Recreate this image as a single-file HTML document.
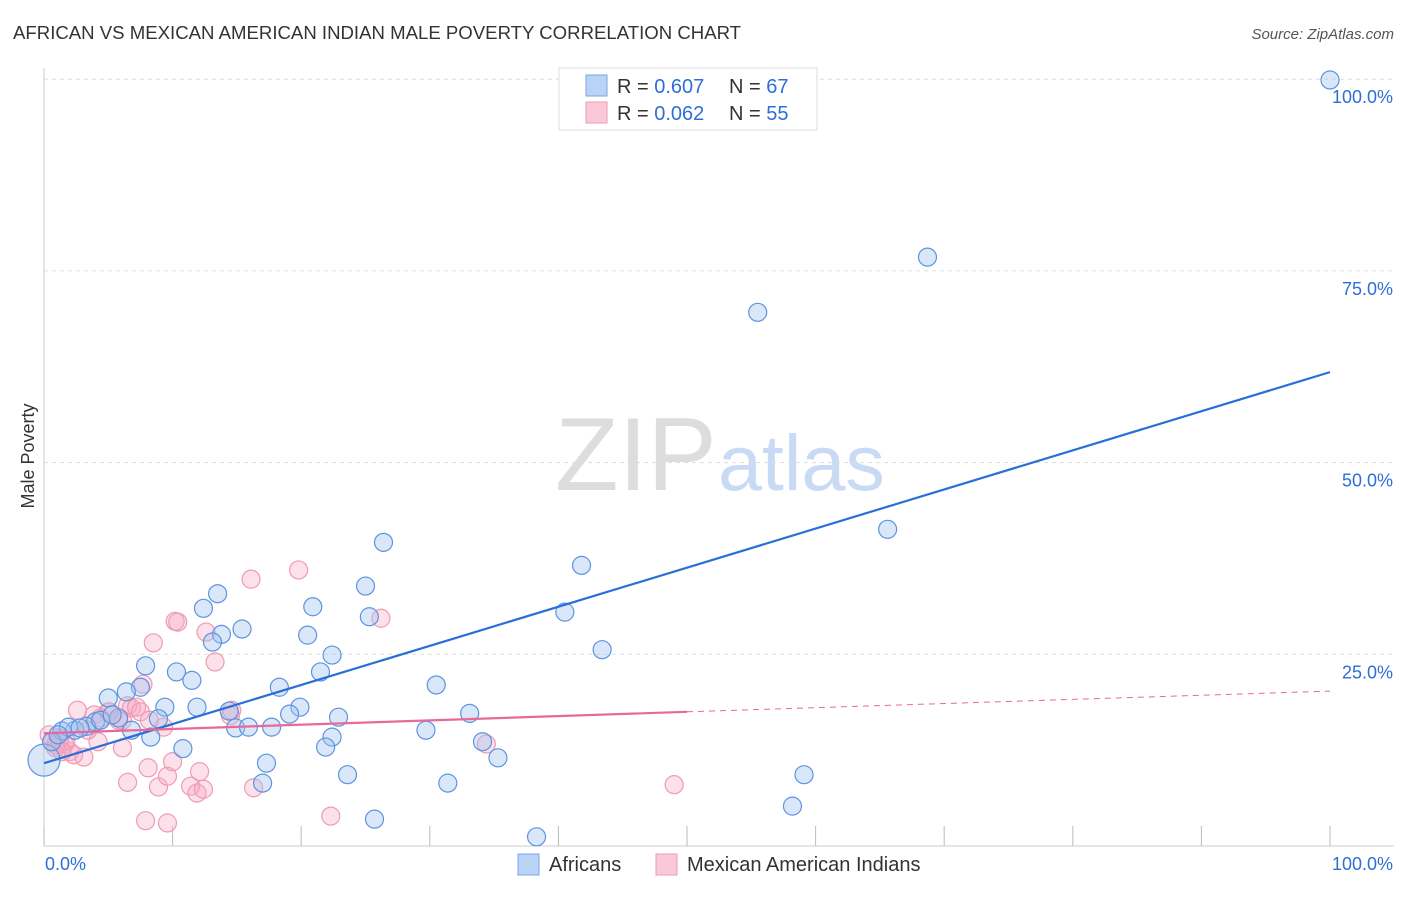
<!DOCTYPE html>
<html><head><meta charset="utf-8"><style>
body{margin:0;background:#fff;font-family:"Liberation Sans",sans-serif}
svg text{font-family:"Liberation Sans",sans-serif}
</style></head><body>
<svg id="chart" width="1406" height="892">
<text x="13" y="39" font-size="18.6" fill="#333">AFRICAN VS MEXICAN AMERICAN INDIAN MALE POVERTY CORRELATION CHART</text>
<text x="1394" y="39" font-size="15" fill="#555" font-style="italic" text-anchor="end">Source: ZipAtlas.com</text>
<text transform="translate(34,456) rotate(-90)" font-size="18" fill="#333" text-anchor="middle">Male Poverty</text>
<g><text x="555" y="490" font-size="104" fill="#ddd" font-family="Liberation Serif,serif">ZIP</text><text x="718" y="490" font-size="79" fill="#c9daf5">atlas</text></g>
<g id="grid"></g><g id="marks"></g><g id="trends"></g>
<g>
<rect x="559" y="68" width="258" height="62" fill="#fff" stroke="#ddd"/>
<rect x="586" y="75" width="21" height="21" fill="#b9d3f5" stroke="#7aa6e6"/>
<rect x="586" y="102" width="21" height="21" fill="#f9c9d7" stroke="#ef9ab4"/>
<text x="617" y="93" font-size="20" fill="#333">R = <tspan fill="#2d6fd6">0.607</tspan><tspan x="729">N = </tspan><tspan fill="#2d6fd6">67</tspan></text>
<text x="617" y="120" font-size="20" fill="#333">R = <tspan fill="#2d6fd6">0.062</tspan><tspan x="729">N = </tspan><tspan fill="#2d6fd6">55</tspan></text>
</g>
<g>
<rect x="518" y="854" width="21" height="21" fill="#b9d3f5" stroke="#7aa6e6"/>
<text x="549" y="871" font-size="20" fill="#333">Africans</text>
<rect x="656" y="854" width="21" height="21" fill="#f9c9d7" stroke="#ef9ab4"/>
<text x="687" y="871" font-size="20" fill="#333">Mexican American Indians</text>
</g>
</svg>
<script>
const blueX=[100,68.7,55.5,65.6,26.4,41.8,25.0,40.5,20.9,25.3,13.5,12.4,15.4,13.8,20.5,13.1,43.4,22.4,7.9,10.3,11.5,21.5,18.3,30.5,7.5,6.4,5.0,9.4,11.9,14.4,33.1,19.9,19.1,22.9,8.9,5.8,4.0,3.3,2.4,1.4,1.9,14.9,15.9,17.7,6.8,29.7,8.3,22.4,21.9,34.1,10.8,35.3,17.3,23.6,59.1,17.0,31.4,58.2,25.7,38.3,0,0.6,1.1,2.8,4.4,5.3];
const blueY=[99.9,76.8,69.6,41.3,39.6,36.6,33.9,30.5,31.2,29.9,32.9,31.0,28.3,27.6,27.5,26.6,25.6,24.9,23.5,22.7,21.6,22.7,20.7,21.0,20.7,20.1,19.3,18.1,18.1,17.6,17.3,18.1,17.2,16.8,16.6,16.7,16.2,15.6,15.1,15.0,15.5,15.4,15.5,15.5,15.1,15.1,14.2,14.2,12.9,13.6,12.7,11.5,10.8,9.3,9.3,8.2,8.2,5.2,3.5,1.2,11.2,13.6,14.5,15.4,16.4,17.1];
const pinkX=[19.8,16.1,26.2,10.2,10.4,12.6,8.5,13.3,7.7,2.6,5.0,14.6,6.5,6.8,7.2,3.9,4.4,6.1,14.5,9.3,34.4,4.2,0.4,1.2,1.6,2.0,3.1,2.3,6.1,6.5,8.1,8.9,9.6,10.0,12.1,11.4,11.9,12.4,16.3,49.0,22.3,7.9,9.6,0.9,0.6,1.2,1.7,3.4,5.1,5.8,0.9,1.4,7.5,8.2];
const pinkY=[36.0,34.8,29.7,29.3,29.2,27.9,26.5,24.0,21.1,17.7,17.5,17.7,18.3,18.0,18.1,17.1,16.7,16.4,17.0,15.5,13.3,13.6,14.5,14.1,13.3,12.3,11.6,11.9,12.8,8.3,10.2,7.7,9.1,11.0,9.7,7.8,6.9,7.4,7.6,8.0,3.9,3.3,3.0,13.2,13.6,13.8,13.7,15.1,17.5,16.4,12.8,12.3,17.5,16.4];
const blueTrend=[10.8,61.8];
const pinkTrend=[14.7,17.5,20.2];
const yTicks=[25,50,75,100];
const xTicks=[0,10,20,30,40,50,60,70,80,90,100];
const NS="http://www.w3.org/2000/svg";
const X=v=>44+v*12.86, Y=v=>846-v*7.668;
function mk(t,a,p){const e=document.createElementNS(NS,t);for(const k in a)e.setAttribute(k,a[k]);document.getElementById(p).appendChild(e);return e;}
const ax=mk('line',{x1:44,y1:68,x2:44,y2:846,stroke:'#ccc'},'grid');


const bx=mk('line',{x1:44,y1:846,x2:1394,y2:846,stroke:'#ccc'},'grid');


yTicks.forEach(t=>{const l=mk('line',{x1:44,y1:Y(t),x2:1394,y2:Y(t),stroke:'#ddd','stroke-dasharray':'4,4'},'grid');


const tx=mk('text',{x:1393,y:Y(t)+24,'font-size':18,fill:'#2d6fd6','text-anchor':'end'},'grid');tx.textContent=t.toFixed(1)+'%';

});
xTicks.forEach(t=>{const l=mk('line',{x1:X(t),y1:826,x2:X(t),y2:846,stroke:'#bbb'},'grid');

});
[[0,45,'start'],[100,1393,'end']].forEach(([v,x,a])=>{const tx=mk('text',{x:x,y:870,'font-size':18,fill:'#2d6fd6','text-anchor':a},'grid');tx.textContent=v.toFixed(1)+'%';

});
pinkX.forEach((x,i)=>{const c=mk('circle',{cx:X(x),cy:Y(pinkY[i]),r:9,fill:'rgba(246,170,195,0.35)',stroke:'#f09ab5','stroke-width':1.2},'marks');

});
blueX.forEach((x,i)=>{const c=mk('circle',{cx:X(x),cy:Y(blueY[i]),r:i==60?16:9,fill:'rgba(160,195,240,0.4)',stroke:'#5d93e0','stroke-width':1.2},'marks');

});
const bt=mk('line',{x1:X(0),y1:Y(blueTrend[0]),x2:X(100),y2:Y(blueTrend[1]),stroke:'#2a6fd6','stroke-width':2.2},'trends');


const pt=mk('line',{x1:X(0),y1:Y(pinkTrend[0]),x2:X(50),y2:Y(pinkTrend[1]),stroke:'#e8689a','stroke-width':2.2},'trends');


const pd=mk('line',{x1:X(50),y1:Y(pinkTrend[1]),x2:X(100),y2:Y(pinkTrend[2]),stroke:'#e8689a','stroke-width':1,'stroke-dasharray':'6,5'},'trends');


</script>
</body></html>
